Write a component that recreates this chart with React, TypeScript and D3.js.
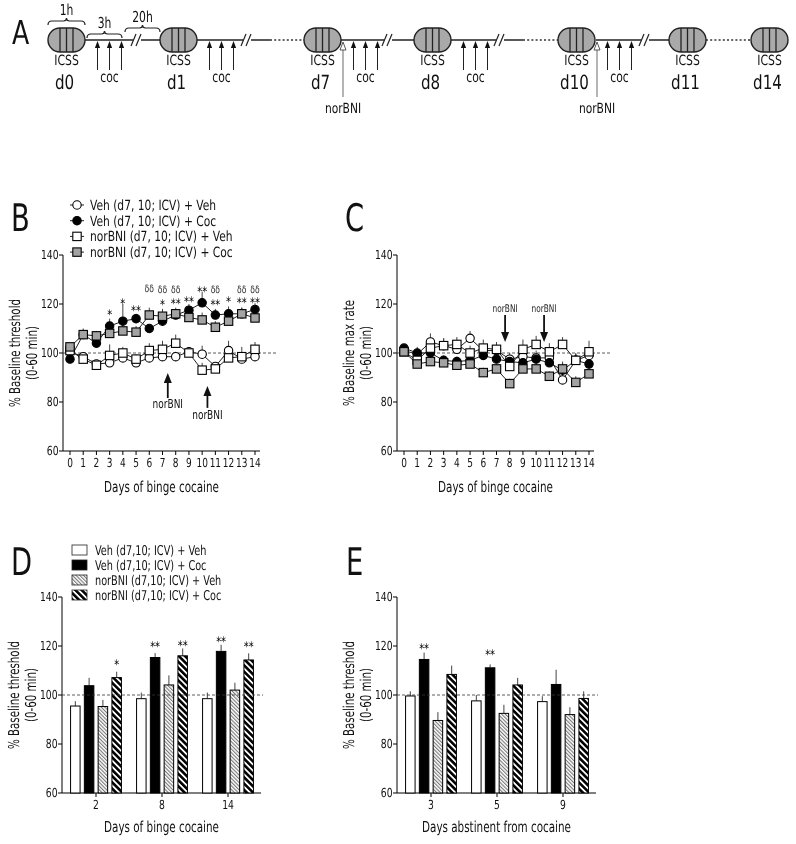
import React from "react";
import * as d3 from "d3";

const FONT = "'Liberation Sans Narrow','DejaVu Sans Condensed','Arial Narrow','Liberation Sans',sans-serif";
const W = 796;
const H = 844;

// ---------------- Panel A: timeline schematic ----------------
const sessionLabels = ["d0", "d1", "d7", "d8", "d10", "d11", "d14"];
const sessionPos = [66.5, 178.5, 322.5, 432.5, 576.5, 687.5, 769.5];
const cocAfter = ["d0", "d1", "d7", "d8", "d10"];
const norBNIAfter = ["d7", "d10"];
const solidSegs = [[85, 160], [197, 270], [341, 415], [450, 523], [596, 670]];
const dottedSegs = [[270, 304], [523, 558], [706, 751]];
const breakPos = [137, 247, 388, 500, 645];
const braceLabels = ["1h", "3h", "20h"];
const braceSpans = [[48, 85], [87, 122], [125, 160]];
const braceRows = [21, 34, 28];

// ---------------- Panels B / C: daily series ----------------
const DAYS = [0, 1, 2, 3, 4, 5, 6, 7, 8, 9, 10, 11, 12, 13, 14];
const SERIES_B = ["Veh (d7, 10; ICV) + Veh", "Veh (d7, 10; ICV) + Coc", "norBNI (d7, 10; ICV) + Veh", "norBNI (d7, 10; ICV) + Coc"];

const thrVehVeh = [100.5, 98.5, 95.5, 96, 98, 96, 98, 98.5, 98.5, 100.5, 99.5, 94.5, 101, 97.5, 98.5];
const thrVehVehSem = [1.5, 1.5, 1.5, 2, 2, 1.5, 1.5, 2, 2, 2, 3.5, 1.5, 4, 2.5, 2];
const thrVehCoc = [97.5, 107.5, 104, 111, 113, 114, 110, 113, 115.5, 117.5, 120.5, 115.5, 116, 116, 117.8];
const thrVehCocSem = [1.5, 2, 1.5, 3, 7, 2, 1.5, 2, 2, 2.5, 4.5, 2.5, 3, 2.5, 2.5];
const thrNorVeh = [101, 97.5, 95, 99, 100, 97.5, 101, 101.5, 104, 100, 93, 93.5, 98, 98.5, 101.5];
const thrNorVehSem = [1.5, 1.5, 2, 4.5, 2.5, 2, 3, 3.5, 3.5, 2, 3, 2, 3, 4, 3];
const thrNorCoc = [102.5, 107.5, 107, 108, 109, 108.5, 115.5, 115, 116, 114.5, 113.5, 110.5, 113, 116, 114.3];
const thrNorCocSem = [1.5, 2.5, 2, 2.5, 2, 2.5, 3, 3, 2.5, 2, 3, 2.5, 3, 2.5, 2.5];

const rateVehVeh = [101, 99.5, 104.5, 103, 101.5, 106, 101, 101, 97.5, 98.5, 98, 98, 89, 97, 99];
const rateVehVehSem = [1.5, 2, 3.5, 3, 3, 3, 2.5, 2.5, 2.5, 2.5, 3, 2.5, 3, 2.5, 3];
const rateVehCoc = [102, 100, 100, 97, 96.5, 97, 99, 97.5, 96.5, 96, 97.5, 96, 93, 97, 95.5];
const rateVehCocSem = [1.5, 2.5, 2, 2, 2, 2, 2, 2, 2.5, 2, 2.5, 3, 3, 2.5, 2.5];
const rateNorVeh = [100.5, 97, 102, 103, 103.5, 100, 102, 101.5, 94.5, 101.5, 103.5, 100.5, 103.5, 97, 100.5];
const rateNorVehSem = [1.5, 2, 3.5, 3, 3, 3, 3.5, 3, 3, 4, 3.5, 3.5, 3, 3, 4.5];
const rateNorCoc = [100.5, 95.5, 96.5, 96, 95, 95.5, 92, 93.5, 87.5, 93.5, 93.5, 90.5, 93.5, 88, 91.5];
const rateNorCocSem = [1.5, 2, 2, 2, 2, 2, 2, 2, 2, 2, 2.5, 2, 3, 2.5, 2.5];

const starDays = [3, 4, 5, 7, 8, 9, 10, 11, 12, 13, 14];
const starText = ["*", "*", "**", "*", "**", "**", "**", "**", "*", "**", "**"];
const starVal = [117, 121.6, 118.6, 120.9, 121.4, 122.3, 126.4, 120.9, 122.3, 122, 122];
const deltaDays = [6, 7, 8, 11, 13, 14];
const deltaVal = [126.3, 126.1, 126.1, 125.8, 126.1, 126.1];

const bArrowDays = [7.4, 10.4];
const bArrowTip = [91.8, 86.5];
const bArrowTail = [81.6, 77.6];
const bArrowLabel = [79.2, 75.1];
const cArrowDays = [7.65, 10.6];
const cArrowTail = [115.5, 115.5];
const cArrowTip = [104.5, 104.5];
const cArrowLabel = [118.2, 118.2];

// ---------------- Panels D / E: bars ----------------
const SERIES_D = ["Veh (d7,10; ICV) + Veh", "Veh (d7,10; ICV) + Coc", "norBNI (d7,10; ICV) + Veh", "norBNI (d7,10; ICV) + Coc"];
const groupsD = ["2", "8", "14"];
const dVehVeh = [95.5, 98.5, 98.5];
const dVehVehSem = [2, 2.5, 2.5];
const dVehCoc = [103.8, 115.3, 117.8];
const dVehCocSem = [3.2, 1.8, 2.7];
const dNorVeh = [95.3, 104.1, 102];
const dNorVehSem = [2.7, 3.9, 3];
const dNorCoc = [107.1, 116, 114.3];
const dNorCocSem = [2.4, 3, 2.7];
const dStarGroup = ["2", "8", "8", "14", "14"];
const dStarSeries = [3, 1, 3, 1, 3];
const dStarText = ["*", "**", "**", "**", "**"];
const dStarVal = [113.6, 121.2, 121.5, 123, 121.2];

const groupsE = ["3", "5", "9"];
const eVehVeh = [99.6, 97.6, 97.3];
const eVehVehSem = [1.9, 2.4, 2.2];
const eVehCoc = [114.5, 111.1, 104.3];
const eVehCocSem = [2.8, 1.4, 6];
const eNorVeh = [89.6, 92.5, 92];
const eNorVehSem = [3.4, 3.5, 3];
const eNorCoc = [108.4, 104.1, 98.6];
const eNorCocSem = [3.6, 2.9, 2.9];
const eStarGroup = ["3", "5"];
const eStarSeries = [1, 1];
const eStarText = ["**", "**"];
const eStarVal = [120.3, 117.6];

const Y_TICKS = [60, 80, 100, 120, 140];

// ---------------- helpers ----------------
function T({ x, y, size, anchor = "start", sx = 0.8, rot = 0, fill = "#111", children, ls }: any) {
  return (
    <text transform={`translate(${x},${y})${rot ? ` rotate(${rot})` : ""} scale(${sx},1)`}
      fontSize={size} textAnchor={anchor} fill={fill} letterSpacing={ls}>{children}</text>
  );
}

function Marker({ kind, cx, cy }: { kind: number; cx: number; cy: number }) {
  const r = 4.2;
  if (kind === 0) return <circle cx={cx} cy={cy} r={r} fill="#fff" stroke="#000" strokeWidth={1.1} />;
  if (kind === 1) return <circle cx={cx} cy={cy} r={r} fill="#000" stroke="#000" strokeWidth={1.1} />;
  const s = 8.4;
  return (
    <rect x={cx - s / 2} y={cy - s / 2} width={s} height={s}
      fill={kind === 2 ? "#fff" : "#a3a3a3"} stroke="#000" strokeWidth={1.1} />
  );
}

function YAxis({ x, y, label1, label2, lx }: any) {
  const cy = (y(140) + y(60)) / 2;
  return (
    <g>
      <line x1={x} x2={x} y1={y(140)} y2={y(60)} stroke="#000" strokeWidth={1} />
      {Y_TICKS.map((t) => (
        <g key={t}>
          <line x1={x - 4} x2={x} y1={y(t)} y2={y(t)} stroke="#000" strokeWidth={1} />
          <T x={x - 4.5} y={y(t) + 4.3} size={12.5} anchor="end" sx={0.82}>{t}</T>
        </g>
      ))}
      <T x={lx} y={cy} rot={-90} size={15} anchor="middle" sx={0.76}>{label1}</T>
      <T x={lx + 17} y={cy} rot={-90} size={15} anchor="middle" sx={0.76}>{label2}</T>
    </g>
  );
}

function PanelA() {
  const sx = d3.scaleLinear().domain([0, W]).range([0, W]);
  const ly = 40;
  const capHalfW = 18.5;
  const capHalfH = 12;
  const posOf = (lab: string) => sessionPos[sessionLabels.indexOf(lab)];
  return (
    <g>
      <T x={12} y={44} size={33} sx={0.85}>A</T>
      {solidSegs.map((s, i) => (
        <line key={"s" + i} x1={sx(s[0])} x2={sx(s[1])} y1={ly} y2={ly} stroke="#222" strokeWidth={1.4} />
      ))}
      {dottedSegs.map((s, i) => (
        <line key={"d" + i} x1={sx(s[0])} x2={sx(s[1])} y1={ly} y2={ly} stroke="#333" strokeWidth={1.3} strokeDasharray="2,2.2" />
      ))}
      {breakPos.map((b, i) => (
        <g key={"b" + i}>
          <rect x={sx(b) - 4} y={ly - 3} width={8} height={6} fill="#fff" />
          <line x1={sx(b) - 6} y1={ly + 6} x2={sx(b) - 1} y2={ly - 6} stroke="#222" strokeWidth={1.2} />
          <line x1={sx(b) - 1} y1={ly + 6} x2={sx(b) + 4} y2={ly - 6} stroke="#222" strokeWidth={1.2} />
        </g>
      ))}
      {sessionLabels.map((lab, i) => {
        const cx = sx(sessionPos[i]);
        return (
          <g key={lab}>
            <rect x={cx - capHalfW} y={ly - capHalfH} width={capHalfW * 2} height={capHalfH * 2}
              rx={capHalfH} ry={capHalfH} fill="#a9a9a9" stroke="#222" strokeWidth={1.4} />
            {[-6.5, 0, 6.5].map((o) => (
              <line key={o} x1={cx + o} x2={cx + o} y1={ly - capHalfH} y2={ly + capHalfH} stroke="#222" strokeWidth={1.3} />
            ))}
            <T x={cx} y={65} size={14} anchor="middle" sx={0.86}>ICSS</T>
            <T x={cx - 2} y={88.5} size={19.5} anchor="middle" sx={0.86}>{lab}</T>
          </g>
        );
      })}
      {cocAfter.map((lab) => {
        const c = posOf(lab);
        return (
          <g key={"coc" + lab}>
            {[31, 43, 55].map((o) => {
              const ax = sx(c + o);
              return (
                <g key={o}>
                  <line x1={ax} x2={ax} y1={70} y2={46} stroke="#222" strokeWidth={1} />
                  <polygon points={`${ax},${ly + 1} ${ax - 2.6},${ly + 8} ${ax + 2.6},${ly + 8}`} fill="#111" />
                </g>
              );
            })}
            <T x={sx(c + 43)} y={82} size={15} anchor="middle" sx={0.8}>coc</T>
          </g>
        );
      })}
      {norBNIAfter.map((lab) => {
        const ax = sx(posOf(lab) + capHalfW + 2);
        return (
          <g key={"nb" + lab}>
            <line x1={ax} x2={ax} y1={97} y2={50} stroke="#777" strokeWidth={1.1} />
            <polygon points={`${ax},${ly + 2} ${ax - 3},${ly + 10} ${ax + 3},${ly + 10}`} fill="#fff" stroke="#555" strokeWidth={1} />
            <T x={ax} y={113} size={14} anchor="middle" sx={0.85}>norBNI</T>
          </g>
        );
      })}
      {braceLabels.map((lab, i) => {
        const [a, b] = braceSpans[i].map(sx);
        const yy = braceRows[i];
        const m = (a + b) / 2;
        const d = `M${a},${yy + 4} Q${a},${yy} ${a + 4},${yy} L${m - 3},${yy} Q${m},${yy} ${m},${yy - 3} Q${m},${yy} ${m + 3},${yy} L${b - 4},${yy} Q${b},${yy} ${b},${yy + 4}`;
        return (
          <g key={lab}>
            <path d={d} fill="none" stroke="#222" strokeWidth={1.2} />
            <T x={m} y={yy - 6} size={15} anchor="middle" sx={0.8}>{lab}</T>
          </g>
        );
      })}
    </g>
  );
}

function LinePanel({ ox, data, sems, yLabel, letter, legend }: any) {
  const x = d3.scaleLinear().domain([0, 14]).range([70 + ox, 255 + ox]);
  const y = d3.scaleLinear().domain([60, 140]).range([451, 255]);
  const axisX = 63 + ox;
  const line = d3.line<number>().x((_, i) => x(DAYS[i])).y((d) => y(d));
  const order = [0, 1, 2, 3];
  return (
    <g>
      <T x={11 + ox} y={231} size={38} sx={0.8}>{letter}</T>
      <YAxis x={axisX} y={y} label1={yLabel} label2="(0-60 min)" lx={20 + ox} />
      <line x1={axisX} x2={260 + ox} y1={y(60)} y2={y(60)} stroke="#000" strokeWidth={1} />
      {DAYS.map((d) => (
        <g key={d}>
          <line x1={x(d)} x2={x(d)} y1={y(60)} y2={y(60) + 4} stroke="#000" />
          <T x={x(d)} y={467} size={12.5} anchor="middle" sx={0.8}>{d}</T>
        </g>
      ))}
      <T x={(axisX + 260 + ox) / 2} y={492} size={15} anchor="middle" sx={0.77}>Days of binge cocaine</T>
      <line x1={axisX} x2={276 + ox} y1={y(100)} y2={y(100)} stroke="#333" strokeWidth={0.8} strokeDasharray="3,2" />
      {order.map((s) => (
        <path key={"l" + s} d={line(data[s]) || ""} fill="none" stroke="#222" strokeWidth={1} />
      ))}
      {order.map((s) =>
        data[s].map((v: number, i: number) => (
          <line key={"e" + s + i} x1={x(DAYS[i])} x2={x(DAYS[i])} y1={y(v)} y2={y(v + sems[s][i])} stroke="#444" strokeWidth={1} />
        ))
      )}
      {order.map((s) =>
        data[s].map((v: number, i: number) => <Marker key={"m" + s + i} kind={s} cx={x(DAYS[i])} cy={y(v)} />)
      )}
      {legend && SERIES_B.map((name, i) => {
        const ry = 205 + i * 15.7;
        return (
          <g key={name}>
            <line x1={70} x2={84} y1={ry} y2={ry} stroke="#222" />
            <Marker kind={i} cx={77} cy={ry} />
            <T x={90} y={ry + 5} size={14} sx={0.85}>{name}</T>
          </g>
        );
      })}
      {legend && (
        <g>
          {starDays.map((d, i) => (
            <T key={"st" + d} x={x(d)} y={y(starVal[i]) + 7.5} size={13} anchor="middle" sx={0.85} fill="#000">{starText[i]}</T>
          ))}
          {deltaDays.map((d, i) => (
            <T key={"dl" + d} x={x(d)} y={y(deltaVal[i]) + 3.5} size={10} anchor="middle" sx={0.85} fill="#333">δδ</T>
          ))}
          {bArrowDays.map((d, i) => {
            const ax = x(d);
            return (
              <g key={"ba" + i}>
                <line x1={ax} x2={ax} y1={y(bArrowTail[i])} y2={y(bArrowTip[i]) + 8} stroke="#111" strokeWidth={1.8} />
                <polygon points={`${ax},${y(bArrowTip[i])} ${ax - 4},${y(bArrowTip[i]) + 10} ${ax + 4},${y(bArrowTip[i]) + 10}`} fill="#111" />
                <T x={ax} y={y(bArrowLabel[i]) + 4.5} size={12.5} anchor="middle" sx={0.8}>norBNI</T>
              </g>
            );
          })}
        </g>
      )}
      {!legend && cArrowDays.map((d, i) => {
        const ax = x(d);
        return (
          <g key={"ca" + i}>
            <line x1={ax} x2={ax} y1={y(cArrowTail[i])} y2={y(cArrowTip[i]) - 8} stroke="#111" strokeWidth={1.8} />
            <polygon points={`${ax},${y(cArrowTip[i])} ${ax - 4},${y(cArrowTip[i]) - 10} ${ax + 4},${y(cArrowTip[i]) - 10}`} fill="#111" />
            <T x={ax} y={y(cArrowLabel[i]) + 3.5} size={10.5} anchor="middle" sx={0.78} fill="#222">norBNI</T>
          </g>
        );
      })}
    </g>
  );
}

const FILLS = ["#fff", "#000", "url(#hatchLight)", "url(#hatchDark)"];

function BarPanel({ ox, groups, data, sems, letter, xLabel, legend, stars }: any) {
  const y = d3.scaleLinear().domain([60, 140]).range([793, 597]);
  const axisX = 62 + ox;
  const gx = d3.scaleBand<string>().domain(groups).range([63 + ox, 261 + ox]);
  const inner = d3.scaleBand<number>().domain([0, 1, 2, 3]).range([5.5, 60.5]).paddingInner(0.31).paddingOuter(0.15);
  const bw = inner.bandwidth();
  return (
    <g>
      <T x={11 + ox} y={575} size={38} sx={0.8}>{letter}</T>
      <YAxis x={axisX} y={y} label1="% Baseline threshold" label2="(0-60 min)" lx={19 + ox} />
      <line x1={axisX} x2={261 + ox} y1={y(60)} y2={y(60)} stroke="#000" strokeWidth={1} />
      {groups.map((g: string) => {
        const cx = (gx(g) as number) + gx.bandwidth() / 2;
        return (
          <g key={g}>
            <line x1={cx} x2={cx} y1={y(60)} y2={y(60) + 4} stroke="#000" />
            <T x={cx} y={809} size={12.5} anchor="middle" sx={0.82}>{g}</T>
          </g>
        );
      })}
      <T x={(axisX + 261 + ox) / 2} y={832} size={15} anchor="middle" sx={0.77}>{xLabel}</T>
      {data.map((vals: number[], s: number) =>
        vals.map((v, gi) => {
          const bx = (gx(groups[gi]) as number) + (inner(s) as number);
          return (
            <g key={"bar" + s + gi}>
              <line x1={bx + bw / 2} x2={bx + bw / 2} y1={y(v)} y2={y(v + sems[s][gi])} stroke="#444" strokeWidth={1} />
              <rect x={bx} y={y(v)} width={bw} height={y(60) - y(v)} fill={FILLS[s]} stroke="#000" strokeWidth={1} />
            </g>
          );
        })
      )}
      <line x1={axisX} x2={263 + ox} y1={y(100)} y2={y(100)} stroke="#333" strokeWidth={0.8} strokeDasharray="3,2" />
      {stars.group.map((g: string, i: number) => {
        const bx = (gx(g) as number) + (inner(stars.series[i]) as number) + bw / 2;
        return (
          <T key={"s" + i} x={bx} y={y(stars.val[i]) + 7.5} size={13} anchor="middle" sx={0.85} fill="#000">{stars.text[i]}</T>
        );
      })}
      {legend && SERIES_D.map((name, i) => {
        const ry = 550 + i * 15;
        return (
          <g key={name}>
            <rect x={72} y={ry - 5} width={15} height={10} fill={FILLS[i]} stroke="#222" strokeWidth={0.8} />
            <T x={95} y={ry + 4.5} size={13.5} sx={0.8}>{name}</T>
          </g>
        );
      })}
    </g>
  );
}

export default function App() {
  return (
    <svg width={W} height={H} style={{ position: "absolute", left: 0, top: 0, background: "#fff", willChange: "transform" }}
      fontFamily={FONT} textRendering="geometricPrecision">
      <defs>
        <pattern id="hatchLight" patternUnits="userSpaceOnUse" width={2.6} height={2.6} patternTransform="rotate(-45)">
          <rect width={2.6} height={2.6} fill="#fff" />
          <rect width={1.1} height={2.6} fill="#777" />
        </pattern>
        <pattern id="hatchDark" patternUnits="userSpaceOnUse" width={4.4} height={4.4} patternTransform="rotate(-45)">
          <rect width={4.4} height={4.4} fill="#fff" />
          <rect width={2.6} height={4.4} fill="#000" />
        </pattern>
      </defs>
      <rect width={W} height={H} fill="#fff" />
      <PanelA />
      <LinePanel ox={0} letter="B" yLabel="% Baseline threshold" legend
        data={[thrVehVeh, thrVehCoc, thrNorVeh, thrNorCoc]}
        sems={[thrVehVehSem, thrVehCocSem, thrNorVehSem, thrNorCocSem]} />
      <LinePanel ox={334} letter="C" yLabel="% Baseline max rate" legend={false}
        data={[rateVehVeh, rateVehCoc, rateNorVeh, rateNorCoc]}
        sems={[rateVehVehSem, rateVehCocSem, rateNorVehSem, rateNorCocSem]} />
      <BarPanel ox={0} letter="D" groups={groupsD} xLabel="Days of binge cocaine" legend
        data={[dVehVeh, dVehCoc, dNorVeh, dNorCoc]}
        sems={[dVehVehSem, dVehCocSem, dNorVehSem, dNorCocSem]}
        stars={{ group: dStarGroup, series: dStarSeries, text: dStarText, val: dStarVal }} />
      <BarPanel ox={335} letter="E" groups={groupsE} xLabel="Days abstinent from cocaine" legend={false}
        data={[eVehVeh, eVehCoc, eNorVeh, eNorCoc]}
        sems={[eVehVehSem, eVehCocSem, eNorVehSem, eNorCocSem]}
        stars={{ group: eStarGroup, series: eStarSeries, text: eStarText, val: eStarVal }} />
    </svg>
  );
}
